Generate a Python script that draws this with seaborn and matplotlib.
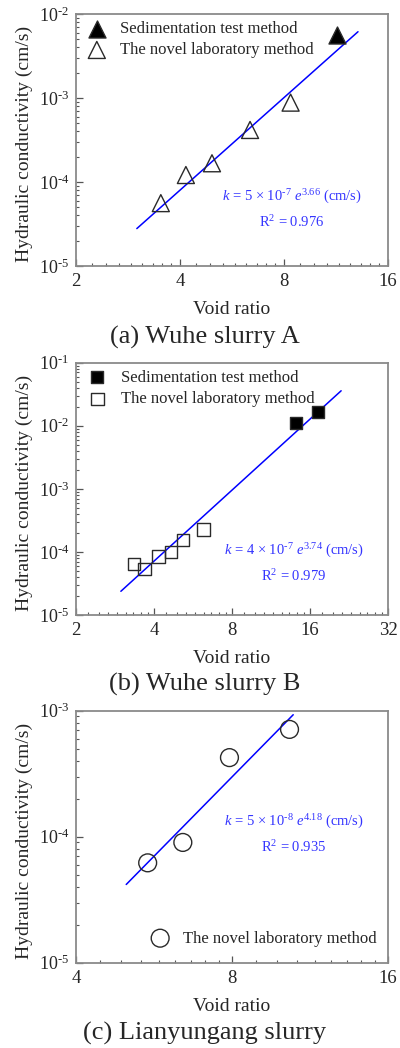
import numpy as np
import pandas as pd
import matplotlib
matplotlib.use("Agg")
import matplotlib.pyplot as plt
import seaborn as sns
from matplotlib.ticker import FixedLocator, NullFormatter, FixedFormatter

# ---------------- data ----------------
# (a) Wuhe slurry A
a_sed_e = [11.4]
a_sed_k = [5.6e-3]
a_lab_e = [3.52, 4.16, 4.95, 6.38, 8.36]
a_lab_k = [5.6e-5, 1.21e-4, 1.67e-4, 4.16e-4, 8.8e-4]
a_fit_coef, a_fit_pow = 5e-7, 3.66
a_fit_range = [3.0, 13.1]

# (b) Wuhe slurry B
b_sed_e = [14.1, 17.2]
b_sed_k = [1.12e-2, 1.67e-2]
b_lab_e = [3.35, 3.67, 4.16, 4.65, 5.18, 6.22]
b_lab_k = [6.4e-5, 5.4e-5, 8.4e-5, 1.0e-4, 1.54e-4, 2.28e-4]
b_fit_coef, b_fit_pow = 4e-7, 3.74
b_fit_range = [2.98, 21.1]

# (c) Lianyungang slurry
c_lab_e = [5.50, 6.43, 7.91, 10.33]
c_lab_k = [6.2e-5, 9.0e-5, 4.24e-4, 7.1e-4]
c_fit_coef, c_fit_pow = 5e-8, 4.18
c_fit_range = [5.0, 10.5]

# ticks / labels
a_xticks = [2, 4, 8, 16]
b_xticks = [2, 4, 8, 16, 32]
c_xticks = [4, 8, 16]
a_yexp = [-5, -4, -3, -2]
b_yexp = [-5, -4, -3, -2, -1]
c_yexp = [-5, -4, -3]

HY = "\u2010"  # short hyphen used in the exponents
captions = ["(a) Wuhe slurry A", "(b) Wuhe slurry B", "(c) Lianyungang slurry"]
eq_texts = [r"$k$ = 5 × 10$^{" + HY + r"7}$ $e^{3.66}$ (cm/s)",
            r"$k$ = 4 × 10$^{" + HY + r"7}$ $e^{3.74}$ (cm/s)",
            r"$k$ = 5 × 10$^{" + HY + r"8}$ $e^{4.18}$ (cm/s)"]
r2_texts = [r"R$^2$ = 0.976", r"R$^2$ = 0.979", r"R$^2$ = 0.935"]
leg_sed = "Sedimentation test method"
leg_lab = "The novel laboratory method"
xlabel = "Void ratio"
ylabel = "Hydraulic conductivity (cm/s)"

# ---------------- style ----------------
sns.set_style("ticks")
plt.rcParams["font.family"] = ["Liberation Serif", "DejaVu Serif"]
plt.rcParams["mathtext.fontset"] = "custom"
plt.rcParams["mathtext.rm"] = "Liberation Serif"
plt.rcParams["mathtext.it"] = "Liberation Serif:italic"
plt.rcParams["mathtext.bf"] = "Liberation Serif:bold"

FRAME = "#8a8a8a"
BLUE = "#0000ff"
TXTBLUE = "#3535ff"
EDGE = "#2a2a2a"

fig = plt.figure(figsize=(4.0, 10.48), dpi=100)
positions = [[0.19, 0.7462, 0.78, 0.2405],
             [0.19, 0.4132, 0.78, 0.2407],
             [0.19, 0.0814, 0.78, 0.2405]]
axes = [fig.add_axes(p) for p in positions]


def minor_x(major):
    locs = []
    for b in major[:-1]:
        locs += [b + k * b / 9 for k in range(1, 9)]
    return locs


def style_axis(ax, xt, yexp):
    ax.set_xscale("log", base=2)
    ax.set_yscale("log")
    ax.set_xlim(xt[0], xt[-1])
    ax.set_ylim(10.0 ** yexp[0], 10.0 ** yexp[-1])
    ax.xaxis.set_major_locator(FixedLocator(xt))
    ax.xaxis.set_major_formatter(FixedFormatter([str(v) for v in xt]))
    ax.xaxis.set_minor_locator(FixedLocator(minor_x(xt)))
    ax.xaxis.set_minor_formatter(NullFormatter())
    ax.yaxis.set_major_locator(FixedLocator([10.0 ** e for e in yexp]))
    ax.yaxis.set_major_formatter(FixedFormatter(
        [r"$\mathregular{10^{" + HY + "%d}}$" % abs(e) for e in yexp]))
    ymin = []
    for e in yexp[:-1]:
        ymin += [m * 10.0 ** e for m in range(2, 10)]
    ax.yaxis.set_minor_locator(FixedLocator(ymin))
    ax.yaxis.set_minor_formatter(NullFormatter())
    for s in ax.spines.values():
        s.set_color(FRAME)
        s.set_linewidth(1.3)
    ax.tick_params(which="major", direction="in", length=5, width=0.9,
                   color="#555555", labelsize=13.5, pad=5,
                   top=False, right=False)
    ax.tick_params(axis="y", which="major", labelsize=13)
    ax.tick_params(which="minor", direction="in", length=2.5, width=0.8,
                   color="#555555", top=False, right=False)
    ax.set_xlabel(xlabel, fontsize=14, labelpad=8)
    ax.set_ylabel(ylabel, fontsize=14)
    ax.yaxis.set_label_coords(-0.137, 0.485)


def fit_line(ax, coef, p, rng):
    xs = np.array(rng)
    df = pd.DataFrame({"e": xs, "k": coef * xs ** p})
    sns.lineplot(data=df, x="e", y="k", ax=ax, color=BLUE, lw=1.1, zorder=2)


def scatter(ax, xs, ys, marker, size, filled, label):
    df = pd.DataFrame({"e": xs, "k": ys})
    sns.scatterplot(data=df, x="e", y="k", ax=ax, marker=marker, s=size,
                    color="black", edgecolor=EDGE, linewidth=1.0,
                    label=label, zorder=3)
    coll = ax.collections[-1]
    if not filled:
        coll.set_facecolor("none")
    else:
        coll.set_facecolor("black")
    coll.set_edgecolor(EDGE)


LEG = dict(frameon=False, fontsize=12, handlelength=1.0, handletextpad=0.9,
           labelspacing=0.32, borderpad=0.0, borderaxespad=0.0)

# ---- (a)
ax = axes[0]
fit_line(ax, a_fit_coef, a_fit_pow, a_fit_range)
scatter(ax, a_sed_e, a_sed_k, "^", 150, True, leg_sed)
scatter(ax, a_lab_e, a_lab_k, "^", 150, False, leg_lab)
style_axis(ax, a_xticks, a_yexp)
ax.legend(loc="upper left", bbox_to_anchor=(0.04, 0.972), **LEG)

# ---- (b)
ax = axes[1]
fit_line(ax, b_fit_coef, b_fit_pow, b_fit_range)
scatter(ax, b_sed_e, b_sed_k, "s", 80, True, leg_sed)
scatter(ax, b_lab_e, b_lab_k, "s", 80, False, leg_lab)
style_axis(ax, b_xticks, b_yexp)
ax.legend(loc="upper left", bbox_to_anchor=(0.042, 0.972), **LEG)

# ---- (c)
ax = axes[2]
fit_line(ax, c_fit_coef, c_fit_pow, c_fit_range)
scatter(ax, c_lab_e, c_lab_k, "o", 165, False, leg_lab)
style_axis(ax, c_xticks, c_yexp)
ax.legend(loc="lower left", bbox_to_anchor=(0.243, 0.064), **LEG)

# equations
eq_pos = [(292, 196.7, 221.7), (294, 550.7, 575.7), (294, 821.7, 846.7)]
for ax, eq, r2, (px, py1, py2) in zip(axes, eq_texts, r2_texts, eq_pos):
    fx = px / 400.0
    fig.text(fx, 1 - py1 / 1048.0, eq, color=TXTBLUE, fontsize=10.5,
             ha="center", va="center")
    fig.text(fx, 1 - py2 / 1048.0, r2, color=TXTBLUE, fontsize=10.5,
             ha="center", va="center")

# captions
cap_y = [337, 684, 1033]
for cap, cy in zip(captions, cap_y):
    fig.text(0.512, 1 - cy / 1048.0, cap, fontsize=19, ha="center", va="center")

fig.savefig("out.png", dpi=100)
